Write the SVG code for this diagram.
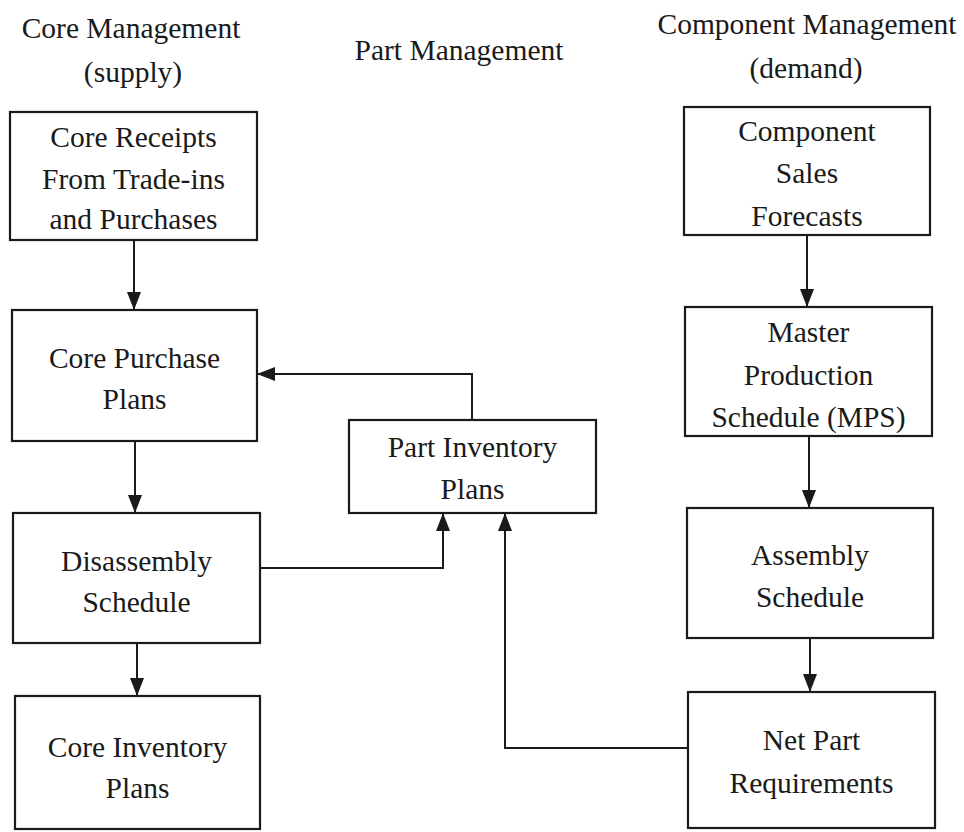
<svg xmlns="http://www.w3.org/2000/svg" width="964" height="832" viewBox="0 0 964 832">
<style>
  .box { fill: #ffffff; stroke: #1a1a1a; stroke-width: 2.2; }
  .t { font-family: "Liberation Serif", "Times New Roman", serif; font-size: 29.5px; fill: #1a1a1a; text-anchor: middle; }
  .edge { fill: none; stroke: #1a1a1a; stroke-width: 2; marker-end: url(#arr); }
</style>
<defs>
  <marker id="arr" viewBox="0 0 18 14" refX="18" refY="7" markerWidth="18" markerHeight="14" markerUnits="userSpaceOnUse" orient="auto">
    <path d="M0,0 L18,7 L0,14 z" fill="#1a1a1a"/>
  </marker>
</defs>
<rect width="964" height="832" fill="#ffffff"/>
<g id="titles">
  <text class="t" x="131" y="38">Core Management</text>
  <text class="t" x="133" y="82">(supply)</text>
  <text class="t" x="459" y="60">Part Management</text>
  <text class="t" x="807" y="34">Component Management</text>
  <text class="t" x="806" y="78">(demand)</text>
</g>
<g id="connectors">
  <path class="edge" d="M134,240 V310"/>
  <path class="edge" d="M135,441 V513"/>
  <path class="edge" d="M137,643 V696"/>
  <path class="edge" d="M472,420 V374 H257"/>
  <path class="edge" d="M260,568 H443 V513"/>
  <path class="edge" d="M807,235 V307"/>
  <path class="edge" d="M809,436 V508"/>
  <path class="edge" d="M810,638 V692"/>
  <path class="edge" d="M688,748 H505 V513"/>
</g>
<g id="core-receipts">
  <rect class="box" x="10" y="112" width="247" height="128"/>
  <text class="t" x="133.5" y="147">Core Receipts</text>
  <text class="t" x="133.5" y="189">From Trade-ins</text>
  <text class="t" x="133.5" y="229">and Purchases</text>
</g>
<g id="core-purchase-plans">
  <rect class="box" x="12" y="310" width="245" height="131"/>
  <text class="t" x="134.5" y="368">Core Purchase</text>
  <text class="t" x="134.5" y="409">Plans</text>
</g>
<g id="disassembly-schedule">
  <rect class="box" x="13" y="513" width="247" height="130"/>
  <text class="t" x="136.5" y="571">Disassembly</text>
  <text class="t" x="136.5" y="612">Schedule</text>
</g>
<g id="core-inventory-plans">
  <rect class="box" x="15" y="696" width="245" height="133"/>
  <text class="t" x="137.5" y="757">Core Inventory</text>
  <text class="t" x="137.5" y="798">Plans</text>
</g>
<g id="part-inventory-plans">
  <rect class="box" x="349" y="420" width="247" height="93"/>
  <text class="t" x="472.5" y="457">Part Inventory</text>
  <text class="t" x="472.5" y="499">Plans</text>
</g>
<g id="component-sales-forecasts">
  <rect class="box" x="684" y="107" width="246" height="128"/>
  <text class="t" x="807" y="141">Component</text>
  <text class="t" x="807" y="183">Sales</text>
  <text class="t" x="807" y="226">Forecasts</text>
</g>
<g id="mps">
  <rect class="box" x="685" y="307" width="247" height="129"/>
  <text class="t" x="808.5" y="342">Master</text>
  <text class="t" x="808.5" y="385">Production</text>
  <text class="t" x="808.5" y="427">Schedule (MPS)</text>
</g>
<g id="assembly-schedule">
  <rect class="box" x="687" y="508" width="246" height="130"/>
  <text class="t" x="810" y="565">Assembly</text>
  <text class="t" x="810" y="607">Schedule</text>
</g>
<g id="net-part-requirements">
  <rect class="box" x="688" y="692" width="247" height="136"/>
  <text class="t" x="811.5" y="750">Net Part</text>
  <text class="t" x="811.5" y="793">Requirements</text>
</g>
</svg>
